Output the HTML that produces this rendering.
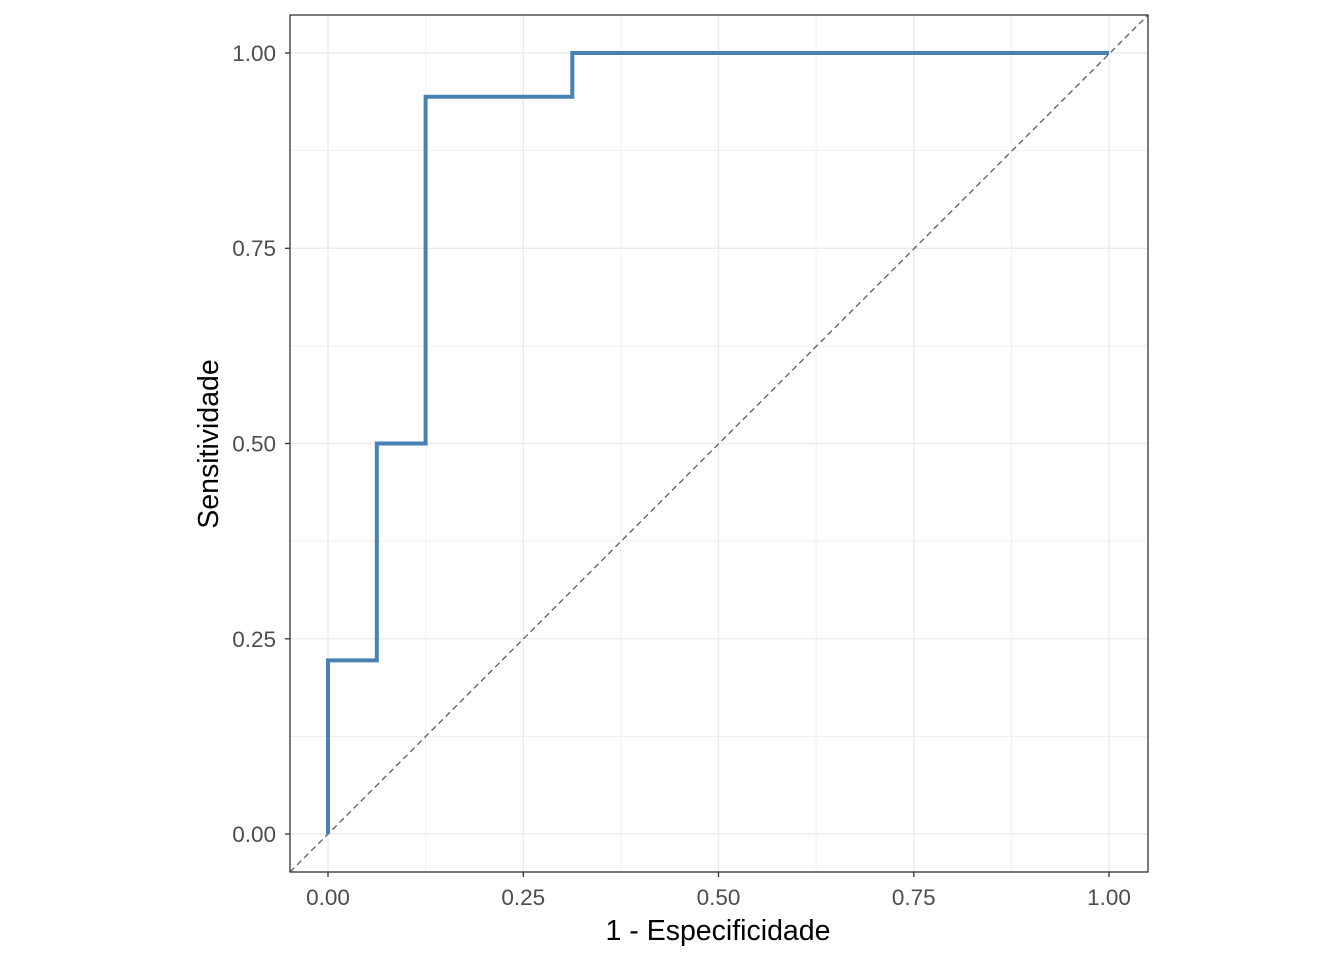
<!DOCTYPE html>
<html><head><style>body{margin:0;background:#fff}</style></head><body>
<svg width="1344" height="960" xmlns="http://www.w3.org/2000/svg" font-family="Liberation Sans, sans-serif">
<rect width="1344" height="960" fill="#fff"/>
<g stroke="#ebebeb" stroke-width="0.7">
<line x1="290" x2="1148" y1="150.6" y2="150.6"/><line x1="290" x2="1148" y1="345.9" y2="345.9"/><line x1="290" x2="1148" y1="541.1" y2="541.1"/><line x1="290" x2="1148" y1="736.4" y2="736.4"/>
<line y1="15" y2="872" x1="425.6" x2="425.6"/><line y1="15" y2="872" x1="620.9" x2="620.9"/><line y1="15" y2="872" x1="816.1" x2="816.1"/><line y1="15" y2="872" x1="1011.4" x2="1011.4"/>
</g>
<g stroke="#ebebeb" stroke-width="1.4">
<line x1="290" x2="1148" y1="53" y2="53"/><line x1="290" x2="1148" y1="248.3" y2="248.3"/><line x1="290" x2="1148" y1="443.5" y2="443.5"/><line x1="290" x2="1148" y1="638.8" y2="638.8"/><line x1="290" x2="1148" y1="834" y2="834"/>
<line y1="15" y2="872" x1="328" x2="328"/><line y1="15" y2="872" x1="523.3" x2="523.3"/><line y1="15" y2="872" x1="718.5" x2="718.5"/><line y1="15" y2="872" x1="913.8" x2="913.8"/><line y1="15" y2="872" x1="1109" x2="1109"/>
</g>
<line x1="290" y1="872" x2="1148" y2="15" stroke="#666" stroke-width="1.4" stroke-dasharray="6,4"/>
<polyline points="328,834 328,660.4 376.8,660.4 376.8,443.5 425.6,443.5 425.6,96.7 572.3,96.7 572.3,53 1109,53" fill="none" stroke="#4682B4" stroke-width="4"/>
<rect x="290" y="15" width="858" height="857" fill="none" stroke="#333" stroke-width="1.3"/>
<g stroke="#333" stroke-width="1.3">
<line x1="285" x2="290" y1="53" y2="53"/><line x1="285" x2="290" y1="248.3" y2="248.3"/><line x1="285" x2="290" y1="443.5" y2="443.5"/><line x1="285" x2="290" y1="638.8" y2="638.8"/><line x1="285" x2="290" y1="834" y2="834"/>
<line y1="872" y2="877" x1="328" x2="328"/><line y1="872" y2="877" x1="523.3" x2="523.3"/><line y1="872" y2="877" x1="718.5" x2="718.5"/><line y1="872" y2="877" x1="913.8" x2="913.8"/><line y1="872" y2="877" x1="1109" x2="1109"/>
</g>
<g fill="#4d4d4d" font-size="22.5" text-anchor="end">
<text x="276" y="61">1.00</text><text x="276" y="256">0.75</text><text x="276" y="451.5">0.50</text><text x="276" y="647">0.25</text><text x="276" y="842">0.00</text>
</g>
<g fill="#4d4d4d" font-size="22.5" text-anchor="middle">
<text x="328" y="905">0.00</text><text x="523.3" y="905">0.25</text><text x="718.5" y="905">0.50</text><text x="913.8" y="905">0.75</text><text x="1109" y="905">1.00</text>
</g>
<text x="718" y="940" font-size="28.5" text-anchor="middle" fill="#000">1 - Especificidade</text>
<text transform="translate(218,444) rotate(-90)" font-size="28.5" text-anchor="middle" fill="#000">Sensitividade</text>
</svg>
</body></html>
